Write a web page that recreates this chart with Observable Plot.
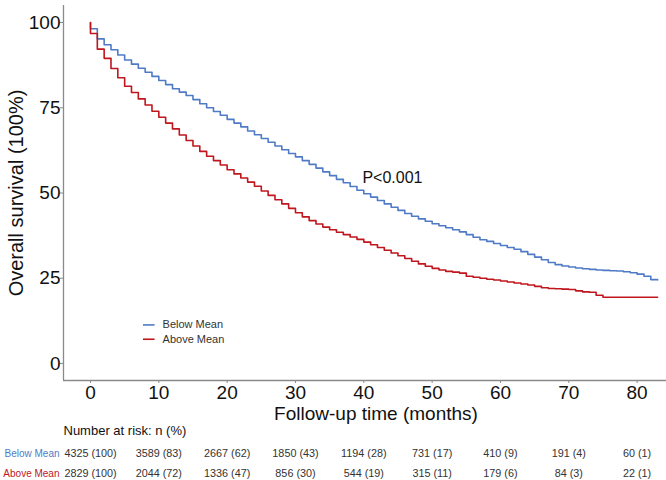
<!DOCTYPE html>
<html>
<head>
<meta charset="utf-8">
<script src="https://cdn.jsdelivr.net/npm/d3@7"></script>
<script src="https://cdn.jsdelivr.net/npm/@observablehq/plot@0.6"></script>
<style>
  html, body { margin: 0; padding: 0; background: #fff; }
  #chart svg { display: block; }
</style>
</head>
<body>
<div id="chart"></div>
<script>
// ---- data ----
const groups = ["Below Mean", "Above Mean"];
const groupColors = ["#4F7BC6", "#C0161E"];
const months = d3.range(0, 84); // 0..83 (step times, monthly)
const belowMean = [
  98.2, 95.2, 93.5, 92.0, 90.5, 89.0, 87.8, 86.6, 85.4, 84.2,
  83.0, 81.8, 80.6, 79.6, 78.6, 77.4, 76.2, 75.0, 73.9, 72.8,
  71.6, 70.5, 69.4, 68.2, 67.1, 66.0, 64.9, 63.8, 62.7, 61.6,
  60.6, 59.5, 58.4, 57.3, 56.2, 55.1, 54.0, 53.0, 51.9, 50.8,
  49.8, 48.8, 47.8, 46.8, 45.8, 44.9, 44.0, 43.2, 42.4, 41.7,
  41.0, 40.4, 39.8, 39.2, 38.6, 37.8, 37.0, 36.3, 35.8, 35.2,
  34.6, 34.0, 33.5, 32.8, 32.0, 31.2, 30.4, 29.6, 29.0, 28.6,
  28.3, 28.0, 27.8, 27.6, 27.4, 27.3, 27.2, 27.1, 26.9, 26.6,
  26.2, 25.6, 24.6, 24.5
];
const aboveMean = [
  96.8, 92.2, 89.5, 86.5, 83.8, 81.3, 79.5, 77.6, 75.8, 74.0,
  72.2, 70.5, 68.8, 67.0, 65.4, 63.8, 62.2, 60.8, 59.5, 58.2,
  56.8, 55.6, 54.4, 53.2, 52.0, 50.6, 49.3, 48.0, 46.8, 45.5,
  44.2, 43.0, 41.9, 40.9, 40.0, 39.2, 38.5, 37.8, 37.1, 36.4,
  35.6, 34.8, 34.0, 33.2, 32.4, 31.6, 30.8, 30.0, 29.2, 28.5,
  27.9, 27.4, 27.0, 26.8, 26.5, 25.6, 25.3, 25.0, 24.7, 24.5,
  24.2, 23.9, 23.6, 23.3, 23.0, 22.6, 22.2, 22.0, 21.9, 21.8,
  21.7, 21.3, 21.0, 20.9, 20.0, 19.4, 19.4, 19.4, 19.4, 19.4,
  19.4, 19.4, 19.4, 19.4
];
const startSurvival = 100;
const xTicks = [0, 10, 20, 30, 40, 50, 60, 70, 80];
const yTicks = [0, 25, 50, 75, 100];
const riskTimes = [0, 10, 20, 30, 40, 50, 60, 70, 80];
const riskBelow = ["4325 (100)", "3589 (83)", "2667 (62)", "1850 (43)", "1194 (28)", "731 (17)", "410 (9)", "191 (4)", "60 (1)"];
const riskAbove = ["2829 (100)", "2044 (72)", "1336 (47)", "856 (30)", "544 (19)", "315 (11)", "179 (6)", "84 (3)", "22 (1)"];
const pValueText = "P<0.001";
const pValueAt = {month: 39.8, survival: 54.4};

// ---- build tables ----
function curve(name, vals) {
  return [{time: 0, surv: startSurvival, group: name},
    ...months.map((m, i) => ({time: m, surv: vals[i], group: name}))];
}
const curves = [...curve(groups[1], aboveMean), ...curve(groups[0], belowMean)];
const belowRows = riskTimes.map((t, i) => ({time: t, label: riskBelow[i]}));
const aboveRows = riskTimes.map((t, i) => ({time: t, label: riskAbove[i]}));

const FONT = "'Liberation Sans', Arial, Helvetica, sans-serif";
const xDomain = [-3.95, 84.3];
const yDomain = [-5, 105];
const axisColor = "#8a8a8a";

const chart = Plot.plot({
  width: 666,
  height: 480,
  marginTop: 5,
  marginRight: 0,
  marginBottom: 100,
  marginLeft: 63,
  style: {fontFamily: FONT, background: "#fff", overflow: "visible"},
  x: {domain: xDomain, ticks: xTicks, label: null},
  y: {domain: yDomain, ticks: yTicks, label: null},
  color: {domain: groups, range: groupColors},
  marks: [
    Plot.ruleX([xDomain[0]], {stroke: axisColor, strokeWidth: 1.3}),
    Plot.ruleY([yDomain[0]], {stroke: axisColor, strokeWidth: 1.3}),
    Plot.axisX({ticks: xTicks, tickSize: 3, tickPadding: 2, fontSize: 19, fill: "#111", stroke: axisColor, label: null}),
    Plot.axisY({ticks: yTicks, tickSize: 3, tickPadding: 0, fontSize: 19, fill: "#111", stroke: axisColor, label: null}),
    Plot.line(curves.filter(d => d.group === groups[0]), {x: "time", y: "surv", stroke: groupColors[0], strokeWidth: 1.6, curve: "step-after"}),
    Plot.line(curves.filter(d => d.group === groups[1]), {x: "time", y: "surv", stroke: groupColors[1], strokeWidth: 1.6, curve: "step-after"}),
    Plot.text([pValueText], {x: pValueAt.month, y: pValueAt.survival, text: d => d, textAnchor: "start", fontSize: 16, fill: "#111"}),
    // axis titles
    Plot.text(["Follow-up time (months)"], {frameAnchor: "bottom", text: d => d, dy: 33, dx: 11, fontSize: 19, fill: "#111", textAnchor: "middle", lineAnchor: "middle"}),
    Plot.text(["Overall survival (100%)"], {frameAnchor: "left", text: d => d, dx: -47, rotate: -90, fontSize: 20, fill: "#111", textAnchor: "middle", lineAnchor: "middle"}),
    // legend
    Plot.ruleY([groups[0]], {x1: 7.75, x2: 9.45, y: () => 11.3, stroke: groupColors[0], strokeWidth: 1.6}),
    Plot.ruleY([groups[1]], {x1: 7.75, x2: 9.45, y: () => 7.1, stroke: groupColors[1], strokeWidth: 1.6}),
    Plot.text([groups[0]], {x: 10.55, y: 11.3, text: d => d, textAnchor: "start", fontSize: 11, fill: "#333"}),
    Plot.text([groups[1]], {x: 10.55, y: 7.1, text: d => d, textAnchor: "start", fontSize: 11, fill: "#333"}),
    // risk table
    Plot.text(["Number at risk: n (%)"], {x: xDomain[0], frameAnchor: "bottom", text: d => d, dy: 50, textAnchor: "start", fontSize: 13, fill: "#111", lineAnchor: "middle"}),
    Plot.text([groups[0]], {x: xDomain[0], frameAnchor: "bottom", text: d => d, dy: 73, dx: -4, textAnchor: "end", fontSize: 10, fill: groupColors[0], lineAnchor: "middle"}),
    Plot.text([groups[1]], {x: xDomain[0], frameAnchor: "bottom", text: d => d, dy: 93, dx: -4, textAnchor: "end", fontSize: 10, fill: groupColors[1], lineAnchor: "middle"}),
    Plot.text(belowRows, {x: "time", frameAnchor: "bottom", text: "label", dy: 73, fontSize: 10.8, fill: "#333", lineAnchor: "middle"}),
    Plot.text(aboveRows, {x: "time", frameAnchor: "bottom", text: "label", dy: 93, fontSize: 10.8, fill: "#333", lineAnchor: "middle"})
  ]
});
document.getElementById("chart").appendChild(chart);
</script>
</body>
</html>
